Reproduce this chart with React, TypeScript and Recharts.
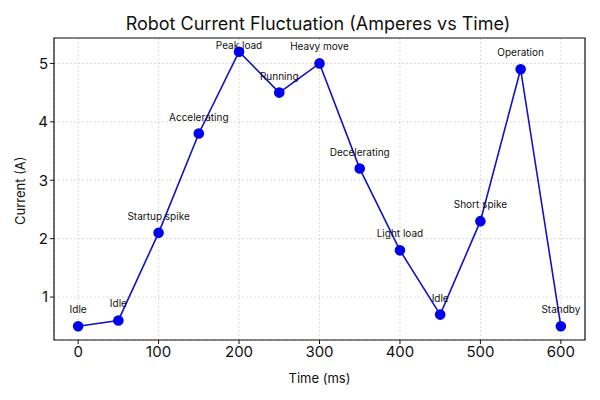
import {
  LineChart,
  Line,
  XAxis,
  YAxis,
  CartesianGrid,
  ReferenceArea,
  LabelList,
} from "recharts";

const times = [0, 50, 100, 150, 200, 250, 300, 350, 400, 450, 500, 550, 600];
const current = [0.5, 0.6, 2.1, 3.8, 5.2, 4.5, 5.0, 3.2, 1.8, 0.7, 2.3, 4.9, 0.5];
const notes = [
  "Idle",
  "Idle",
  "Startup spike",
  "Accelerating",
  "Peak load",
  "Running",
  "Heavy move",
  "Decelerating",
  "Light load",
  "Idle",
  "Short spike",
  "Operation",
  "Standby",
];
const xTicks = [0, 100, 200, 300, 400, 500, 600];
const yTicks = [1, 2, 3, 4, 5];

const data = times.map((t, i) => ({ t, a: current[i], note: notes[i] }));

const FONT = "Inter, 'Open Sans', sans-serif";
const PLOT_TOP = 38;

function Note(props: any) {
  const { x, y, value } = props;
  const ty = Math.max(y - 17, PLOT_TOP + 7);
  return (
    <text x={x} y={ty} textAnchor="middle" dominantBaseline="central" fontSize={10} fill="#111" fontFamily={FONT}>
      {value}
    </text>
  );
}

export default function App() {
  return (
    <div style={{ position: "absolute", left: 0, top: 0, fontFamily: FONT }}>
      <LineChart width={600} height={400} data={data} margin={{ top: PLOT_TOP, right: 15, left: 0, bottom: 0 }}>
        <text x={318} y={23} textAnchor="middle" dominantBaseline="central" fontSize={18} fill="#111" fontFamily={FONT}>
          Robot Current Fluctuation (Amperes vs Time)
        </text>
        <CartesianGrid stroke="#c8c8c8" strokeDasharray="2 2" strokeWidth={0.7} />
        <XAxis
          dataKey="t"
          type="number"
          domain={[-30, 630]}
          ticks={xTicks}
          height={60}
          tick={{ fontSize: 15, fill: "#111", fontFamily: FONT }}
          tickLine={{ stroke: "#111" }}
          axisLine={false}
          tickSize={4}
          label={{ value: "Time (ms)", position: "insideBottom", offset: 17, fontSize: 13, fill: "#111", fontFamily: FONT }}
        />
        <YAxis
          type="number"
          domain={[0.265, 5.435]}
          ticks={yTicks}
          width={54}
          tick={{ fontSize: 15, fill: "#111", fontFamily: FONT }}
          tickLine={{ stroke: "#111" }}
          axisLine={false}
          tickSize={4}
          allowDataOverflow
          label={{ value: "Current (A)", angle: -90, position: "insideLeft", offset: 20, dy: 36, fontSize: 13, fill: "#111", fontFamily: FONT }}
        />
        <ReferenceArea x1={-30} x2={630} y1={0.265} y2={5.435} fill="none" stroke="#111" strokeWidth={1.2} ifOverflow="visible" />
        <Line
          dataKey="a"
          stroke="#1212c4"
          strokeWidth={1.6}
          dot={{ r: 4.5, fill: "#0000ee", stroke: "#0000ee" }}
          activeDot={false}
          isAnimationActive={false}
        >
          <LabelList dataKey="note" content={<Note />} />
        </Line>
      </LineChart>
    </div>
  );
}
